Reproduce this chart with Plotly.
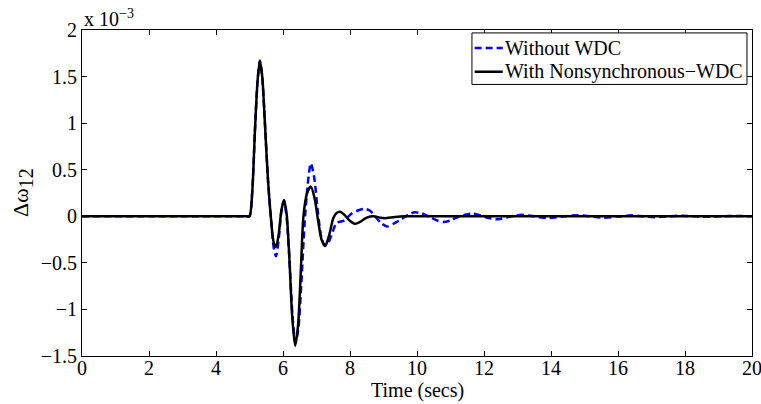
import plotly.graph_objects as go

# Time samples (s) and Δω12 values (in units of 1e-3)
t_without = [0, 1, 2, 3, 4, 4.6, 4.9, 5.0, 5.08, 5.16, 5.24, 5.31, 5.38, 5.46, 5.55, 5.64, 5.72,
             5.79, 5.87, 5.95, 6.03, 6.11, 6.19, 6.28, 6.37, 6.46, 6.55, 6.64, 6.74, 6.83, 6.93,
             7.04, 7.14, 7.24, 7.33, 7.45, 7.6, 7.8, 8.05, 8.3, 8.45, 8.6, 8.75, 8.92, 9.1, 9.3,
             9.54, 9.75, 9.94, 10.15, 10.39, 10.6, 10.79, 11.0, 11.2, 11.42, 11.63, 11.85, 12.05,
             12.38, 12.7, 12.9, 13.12, 13.5, 13.87, 14.3, 14.76, 15.15, 15.56, 16.0, 16.4, 16.75,
             17.1, 17.5, 17.9, 18.3, 18.7, 19.1, 19.5, 20]
v_without = [0, 0, 0, 0, 0, 0, 0, 0, 0.25, 0.9, 1.45, 1.67, 1.5, 1.0, 0.4, -0.02, -0.33,
             -0.43, -0.25, 0.05, 0.17, -0.02, -0.45, -1.05, -1.36, -1.2, -0.7, -0.1, 0.35, 0.57,
             0.42, 0.05, -0.22, -0.31, -0.30, -0.2, -0.07, -0.05, 0.03, 0.07, 0.08, 0.06, 0.0,
             -0.07, -0.11, -0.08, -0.03, 0.02, 0.042, 0.03, -0.01, -0.045, -0.062, -0.045, -0.01,
             0.015, 0.03, 0.015, -0.01, -0.033, -0.01, 0.005, 0.016, 0.0, -0.02, -0.005, 0.012,
             0.0, -0.016, -0.003, 0.01, 0.0, -0.01, 0.0, 0.007, 0.0, -0.006, 0.0, 0.004, 0]

t_with = [0, 1, 2, 3, 4, 4.6, 4.9, 5.0, 5.08, 5.16, 5.24, 5.31, 5.38, 5.46, 5.55, 5.64, 5.72,
          5.79, 5.87, 5.95, 6.03, 6.11, 6.19, 6.27, 6.36, 6.45, 6.53, 6.61, 6.72, 6.83, 6.94,
          7.05, 7.15, 7.26, 7.38, 7.5, 7.6, 7.7, 7.82, 7.97, 8.15, 8.3, 8.5, 8.7, 8.9, 9.04,
          9.3, 9.6, 10.0, 11, 12, 13, 14, 15, 16, 17, 18, 19, 20]
v_with = [0, 0, 0, 0, 0, 0, 0, 0, 0.25, 0.9, 1.45, 1.67, 1.5, 1.0, 0.4, -0.02, -0.28, -0.33,
          -0.2, 0.06, 0.175, 0.02, -0.45, -1.05, -1.39, -1.17, -0.6, 0.0, 0.25, 0.32, 0.2,
          -0.05, -0.25, -0.32, -0.2, -0.02, 0.035, 0.048, 0.02, -0.04, -0.08, -0.06, -0.015,
          0.0, -0.015, -0.02, -0.01, 0.0, 0.0, 0, 0, 0, 0, 0, 0, 0, 0, 0, 0]

series_names = ["Without WDC", "With Nonsynchronous\u2212WDC"]
x_ticks = [0, 2, 4, 6, 8, 10, 12, 14, 16, 18, 20]
y_ticks = [-1.5, -1, -0.5, 0, 0.5, 1, 1.5, 2]
y_tick_labels = ["\u22121.5", "\u22121", "\u22120.5", "0", "0.5", "1", "1.5", "2"]

FONT = "Liberation Serif, Times New Roman, serif"
FS = 20
DASH = "7px,4px"

fig = go.Figure()
fig.add_trace(go.Scatter(x=t_without, y=v_without, mode="lines", name=series_names[0],
                         showlegend=False,
                         line=dict(color="#0000ff", width=2.5, dash=DASH, shape="spline",
                                   smoothing=0.7)))
fig.add_trace(go.Scatter(x=t_with, y=v_with, mode="lines", name=series_names[1],
                         showlegend=False,
                         line=dict(color="black", width=2.5, shape="spline", smoothing=0.7)))

axis_common = dict(showgrid=False, zeroline=False, showline=True, linecolor="black",
                   linewidth=1, mirror="ticks", ticks="inside", ticklen=5, tickcolor="black",
                   automargin=False, ticklabeloverflow="allow",
                   tickfont=dict(family=FONT, size=FS, color="black"))

fig.update_layout(
    width=761, height=404,
    margin=dict(l=82, r=9, t=30, b=48),
    paper_bgcolor="white", plot_bgcolor="white",
    font=dict(family=FONT, size=FS, color="black"),
    xaxis=dict(range=[0, 20], tickvals=x_ticks, ticktext=[str(v) for v in x_ticks],
               ticklabelstandoff=-6, **axis_common),
    yaxis=dict(range=[-1.5, 2], tickvals=y_ticks, ticktext=y_tick_labels, **axis_common),
    showlegend=False,
)

# x-axis title
fig.add_annotation(text="Time (secs)", xref="paper", yref="paper", x=0.5, y=-0.107,
                   xanchor="center", yanchor="middle", showarrow=False,
                   font=dict(family=FONT, size=FS, color="black"))

# Legend box (MATLAB style) drawn in paper coordinates
fig.add_shape(type="rect", xref="paper", yref="paper", x0=0.582, x1=0.9925, y0=0.833,
              y1=0.991, line=dict(color="black", width=1), fillcolor="white", layer="above")
legend_rows = [(0.945, dict(color="#0000ff", width=2.5, dash=DASH)),
               (0.872, dict(color="black", width=2.5))]
for (ly, lstyle), name in zip(legend_rows, series_names):
    fig.add_shape(type="line", xref="paper", yref="paper", x0=0.586, x1=0.628, y0=ly, y1=ly,
                  line=lstyle, layer="above")
    fig.add_annotation(text=name, xref="paper", yref="paper", x=0.629, y=ly, xanchor="left",
                       yanchor="middle", showarrow=False,
                       font=dict(family=FONT, size=FS, color="black"))

fig.add_annotation(text="x 10<sup>\u22123</sup>", xref="paper", yref="paper", x=0, y=1,
                   xanchor="left", yanchor="bottom", showarrow=False, yshift=-2,
                   font=dict(family=FONT, size=FS, color="black"))
fig.add_annotation(text="\u0394\u03c9<sub><span style='font-size:20px'>12</span></sub>",
                   xref="paper", yref="paper", x=0, y=0.50,
                   xanchor="center", yanchor="middle", showarrow=False, textangle=-90,
                   xshift=-60, font=dict(family=FONT, size=22, color="black"))

fig.write_html("out.html")
